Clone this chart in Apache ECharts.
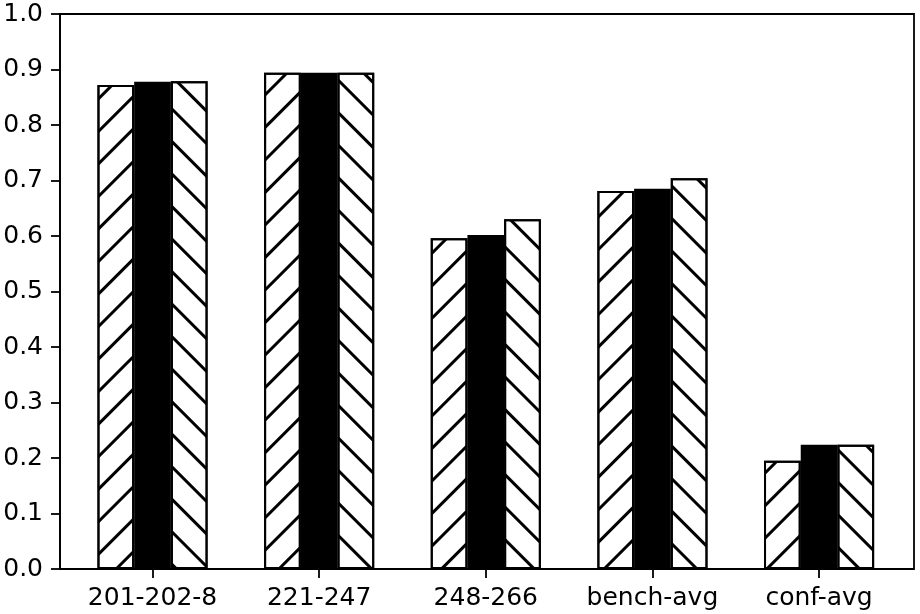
<!DOCTYPE html>
<html>
<head>
<meta charset="utf-8">
<script src="https://cdn.jsdelivr.net/npm/echarts@6/dist/echarts.min.js"></script>
<style>html,body{margin:0;padding:0;background:#fff}#c{width:920px;height:614px}</style>
</head>
<body>
<div id="c"></div>
<script>
const categories = ['201-202-8', '221-247', '248-266', 'bench-avg', 'conf-avg'];
const seriesA = [0.872, 0.894, 0.596, 0.681, 0.195];
const seriesB = [0.878, 0.894, 0.602, 0.685, 0.224];
const seriesC = [0.879, 0.894, 0.630, 0.704, 0.224];
const yTicks = [0.0, 0.1, 0.2, 0.3, 0.4, 0.5, 0.6, 0.7, 0.8, 0.9, 1.0];

const chart = echarts.init(document.getElementById('c'), null, {renderer: 'canvas'});
const font = 'DejaVu Sans';
const hatch = (rot) => ({
  symbol: 'rect',
  symbolSize: 1,
  color: '#000',
  dashArrayX: [1, 0],
  dashArrayY: [2.4, 19.6],
  rotation: rot
});
const barBase = {
  type: 'bar',
  xAxisIndex: 1,
  yAxisIndex: 1,
  barWidth: 36.7,
  barGap: '0%',
  silent: true
};
chart.setOption({
  animation: false,
  backgroundColor: '#fff',
  grid: [
    {left: 60, right: 6, top: 14, bottom: 45, show: true, borderColor: '#000', borderWidth: 1.8, backgroundColor: 'transparent'},
    {left: 69.2, right: 17.6, top: 14, bottom: 45}
  ],
  xAxis: [
    {type: 'value', gridIndex: 0, min: 0, max: 1, show: false},
    {type: 'category', gridIndex: 1, data: categories,
     axisLine: {show: false},
     axisTick: {show: true, interval: 0, alignWithLabel: true, length: 9, lineStyle: {color: '#000', width: 1.8}},
     axisLabel: {color: '#000', fontFamily: font, fontSize: 25, margin: 17, interval: 0, hideOverlap: false},
     splitLine: {show: false}}
  ],
  yAxis: [
    {type: 'value', gridIndex: 0, min: 0, max: 1, interval: 0.1,
     axisLine: {show: true, lineStyle: {color: '#000', width: 1.8}},
     axisTick: {show: true, length: 9, lineStyle: {color: '#000', width: 1.8}},
     axisLabel: {color: '#000', fontFamily: font, fontSize: 25, margin: 17,
       formatter: (v) => { const t = yTicks.find(x => Math.abs(x - v) < 1e-6); return (t !== undefined ? t : v).toFixed(1); }},
     splitLine: {show: false}},
    {type: 'value', gridIndex: 1, min: 0, max: 1, show: false}
  ],
  series: [
    Object.assign({}, barBase, {name: 'A', data: seriesA,
      itemStyle: {color: '#fff', borderColor: '#000', borderWidth: 2, decal: hatch(-Math.PI / 4)}}),
    Object.assign({}, barBase, {name: 'B', data: seriesB,
      itemStyle: {color: '#000', borderColor: '#000', borderWidth: 2}}),
    Object.assign({}, barBase, {name: 'C', data: seriesC,
      itemStyle: {color: '#fff', borderColor: '#000', borderWidth: 2, decal: hatch(Math.PI / 4)}})
  ]
});
</script>
</body>
</html>
